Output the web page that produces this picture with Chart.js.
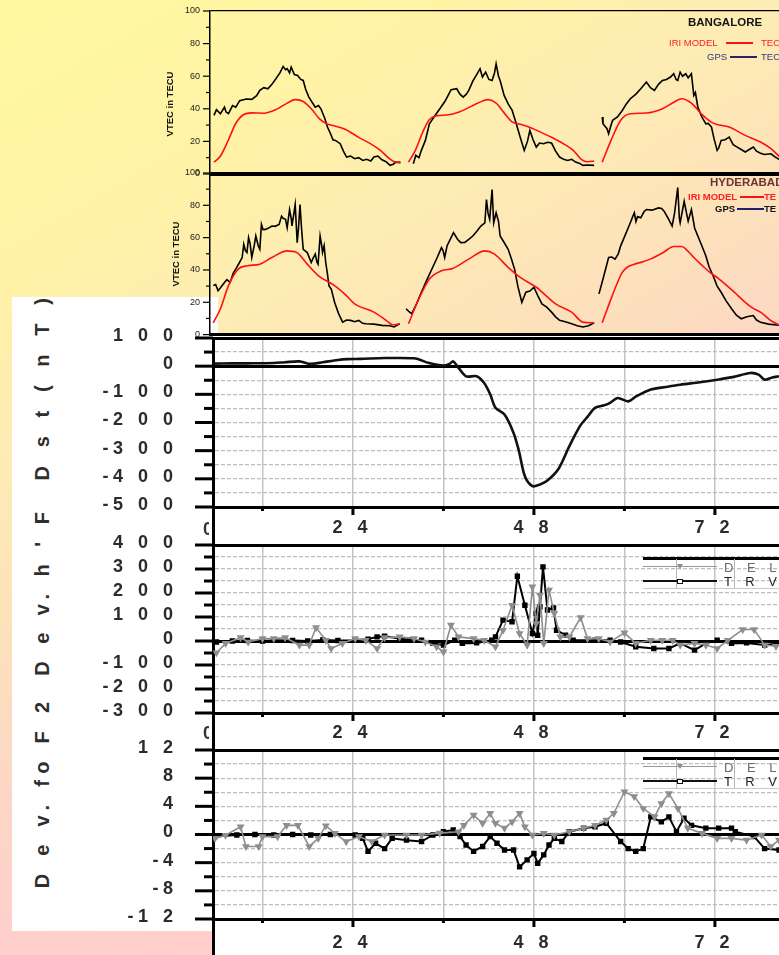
<!DOCTYPE html>
<html><head><meta charset="utf-8">
<script src="https://cdn.jsdelivr.net/npm/chart.js@4/dist/chart.umd.min.js"></script>
<style>
html,body{margin:0;padding:0;}
body{width:779px;height:955px;overflow:hidden;position:relative;
 background:linear-gradient(150deg,#fff9a0 0%,#fff2a6 20%,#fdecb4 32%,#fde3b9 43%,#fcd8c4 55%,#ffd0cb 66%,#ffc9cc 100%);
 font-family:"Liberation Sans",Arial,sans-serif;}
.a{position:absolute;}
.t{position:absolute;line-height:1;white-space:nowrap;transform:translateY(-50%);}
.rot{position:absolute;line-height:1;white-space:nowrap;transform:translate(-50%,-50%) rotate(-90deg);}
canvas{position:absolute;}
</style></head><body>
<div class="a" style="left:12px;top:297px;width:206px;height:634px;background:#fff"></div>
<div class="a" style="left:213px;top:336px;width:566px;height:619px;background:#fff"></div>
<div class="a" style="left:211.5px;top:338px;width:3px;height:617px;background:#000"></div>

<canvas id="cBan" width="629" height="180" style="left:150px;top:0px"></canvas>
<canvas id="cHyd" width="629" height="175" style="left:150px;top:165px"></canvas>
<canvas id="cDst" width="679" height="215" style="left:100px;top:327px"></canvas>
<canvas id="cHF" width="679" height="215" style="left:100px;top:534px"></canvas>
<canvas id="cFo" width="679" height="216" style="left:100px;top:739px"></canvas>

<!-- upper titles & legends -->
<div class="rot" style="left:170px;top:104px;font-size:9.5px;font-weight:bold;color:#111">VTEC in TECU</div>
<div class="rot" style="left:176px;top:254px;font-size:9.5px;font-weight:bold;color:#111">VTEC in TECU</div>

<div class="t" style="left:688px;top:23px;font-size:11.5px;font-weight:bold;color:#141414">BANGALORE</div>
<div class="t" style="left:669px;top:43px;font-size:9.5px;color:#ff2020">IRI MODEL</div>
<div class="a" style="left:726px;top:42px;width:27px;height:2px;background:#ff1010"></div>
<div class="t" style="left:761px;top:43px;font-size:9.5px;color:#ff2020">TEC</div>
<div class="t" style="left:707px;top:56.5px;font-size:9.5px;color:#34347e">GPS</div>
<div class="a" style="left:730px;top:56px;width:27px;height:2px;background:#25256e"></div>
<div class="t" style="left:761px;top:56.5px;font-size:9.5px;color:#34347e">TEC</div>

<div class="t" style="left:710px;top:182.5px;font-size:11.5px;font-weight:bold;color:#6b3434">HYDERABAD</div>
<div class="t" style="left:688px;top:197px;font-size:9.5px;font-weight:bold;color:#ff2020">IRI MODEL</div>
<div class="a" style="left:740px;top:196px;width:24px;height:2px;background:#ff1010"></div>
<div class="t" style="left:764px;top:197px;font-size:9.5px;font-weight:bold;color:#ff2020">TE</div>
<div class="t" style="left:715px;top:208.5px;font-size:9.5px;font-weight:bold;color:#111">GPS</div>
<div class="a" style="left:737px;top:208px;width:27px;height:2px;background:#20206a"></div>
<div class="t" style="left:764px;top:208.5px;font-size:9.5px;font-weight:bold;color:#111">TE</div>

<!-- lower left titles -->
<div class="rot" style="left:42px;top:386px;font-size:20px;font-weight:bold;letter-spacing:6.6px;color:#2e2e2e">D s t ( n T )</div>
<div class="rot" style="left:42px;top:591px;font-size:20px;font-weight:bold;letter-spacing:6px;color:#2e2e2e">D e v. h ' F</div>
<div class="rot" style="left:42px;top:792px;font-size:20px;font-weight:bold;letter-spacing:6.3px;color:#2e2e2e">D e v. fo F 2</div>

<div class="a" style="left:203px;top:518px;width:6px;height:22px;overflow:hidden;font-size:18px;font-weight:bold;color:#333;line-height:22px">0</div>
<div class="a" style="left:203px;top:722px;width:6px;height:22px;overflow:hidden;font-size:18px;font-weight:bold;color:#333;line-height:22px">0</div>

<!-- lower legends -->
<div id="legHF"></div>
<div id="legFo"></div>

<script>
// ---------------- DATA ----------------
// Upper panels: hours (3 consecutive days), VTEC in TECU
const BAN_IRI_D1_H=[0.5,1.3,2.3,3.2,4.2,5.2,6.7,8.2,9.6,10.6,11.6,12.6,13.6,14.5,15.5,16.8,18.5,20.0,21.2,22.3,23.2,23.7];
const BAN_IRI_D1_V=[7.3,11,21,31,36.5,37.5,37.3,39.5,43.5,45.6,44.5,40,34,30.8,29.5,27.5,22.5,18.5,14.5,9.5,7.2,7.5];
const BAN_IRI_D2_H=[24.7,25.5,26.5,27.3,28.3,29.5,31.0,32.5,34.0,34.6,35.6,36.6,37.6,38.6,39.6,41.0,42.5,44.0,45.2,46.2,47.0,47.8];
const BAN_IRI_D2_V=[7.3,14,26,33.5,35.8,36.2,38,41.5,45,45.6,43.5,37.5,32,30.5,29,26,22.5,18.5,14.5,9,7.5,8];
const BAN_IRI_D3_H=[48.8,49.9,51.1,52.3,54.3,56.3,57.7,58.7,59.9,61.2,62.6,64.6,66.6,68.5,69.8,70.9];
const BAN_IRI_D3_V=[7.3,20.6,33,37,37.4,40,44,46.2,43.5,36.6,31.2,28.8,23.7,19.6,15.5,10.4];

const BAN_GPS_D1_H=[0.5,0.8,1.3,1.8,2.0,2.3,2.6,2.8,3.2,3.7,4.5,5.2,5.8,6.2,6.7,7.2,7.7,8.2,8.7,9.1,9.4,9.6,9.9,10.1,10.5,10.9,11.3,11.6,11.9,12.3,12.7,13.1,13.5,13.8,14.3,14.6,15.0,15.3,15.6,16.2,16.6,17.0,17.5,18.0,18.5,19.0,19.5,20.0,20.4,20.9,21.4,21.9,22.4,22.8,23.1,23.7];
const BAN_GPS_D1_V=[36,39.5,37,41,38,37,40,42,41,45,46,45.8,48,51.3,53,52.3,55,58.4,62,66,64,64.6,62,65.6,61,60.5,58,57.4,52,47.2,44,41,42,40,33.9,29,24.7,21,20.6,18.6,14,10.4,11,9.4,10,8.3,9,8,10.4,11,8.7,7.5,5.3,6,7.3,6.9];
const BAN_GPS_D2_H=[25.3,25.6,26.0,26.3,26.8,27.3,28.0,28.6,29.3,30.0,30.7,31.1,31.5,31.9,32.2,32.7,33.2,33.6,33.9,34.3,34.7,35.1,35.4,35.6,35.9,36.1,36.6,37.1,37.6,38.1,38.6,39.1,39.5,39.8,40.2,40.6,41.0,41.5,42.0,42.5,43.0,43.5,44.0,44.5,45.0,45.5,46.0,46.4,47.0,47.8];
const BAN_GPS_D2_V=[6.3,11.4,10,14.5,20.6,30.8,35.9,40,45.1,51.7,52.3,49,47.2,49,51.3,57,61.1,64.6,59.5,62.5,58,57.4,62,67.6,60,57.4,48.2,43,39,31,22.6,14.5,20,26.7,21,16.5,19,18.6,19.5,19,14,10.4,9,8.3,9,7.3,6.5,5.3,5.5,5.3];
const BAN_GPS_D3_H=[48.8,48.9,49.2,49.4,49.6,49.9,50.1,50.7,51.3,51.8,52.3,53.0,53.6,54.3,54.8,55.3,55.8,56.3,56.8,57.3,57.7,58.0,58.2,58.5,58.8,59.2,59.5,59.9,60.2,60.4,60.7,61.2,61.7,62.0,62.4,62.7,63.1,63.3,63.6,64.1,64.6,65.1,65.6,66.1,66.6,67.1,67.6,68.0,68.5,69.0,69.8,70.3,70.9];
const BAN_GPS_D3_V=[34.9,30.8,29,27.8,24.7,30,32.9,35,39,43,46.2,49,52.3,56.4,53,51.3,55,57.4,58,59.5,61.5,58,57.4,62.5,60,61.5,59,61.5,48.2,50,41,35,30.8,31,28.8,22,14.5,16,20.6,21,22.6,18,16.5,15,13.5,15,16.5,14,12.8,12,12.4,10.5,8.7];

const HYD_IRI_D1_H=[0.4,1.3,2.3,3.5,4.7,6.2,7.7,9.6,10.8,12.1,13.5,15.5,17.0,18.0,20.4,22.0,22.7,23.6];
const HYD_IRI_D1_V=[7.3,16,30.3,40.5,42.6,43.6,47.7,51.8,50.8,43.6,36.4,30.3,24,19,13.9,8.5,6.1,6.7];
const HYD_IRI_D2_H=[24.7,25.8,27.3,28.8,30.2,32.2,34.2,35.4,37.1,38.6,40.6,43.0,45.0,46.4,47.8];
const HYD_IRI_D2_V=[6.7,20,34.4,39.5,40.9,46.7,51.8,49.8,41.6,35.4,29.3,19,13.9,7.7,7.3];
const HYD_IRI_D3_H=[48.8,49.9,50.6,51.3,52.0,52.8,53.8,54.8,56.3,57.7,58.7,59.5,60.2,61.2,62.2,63.2,64.1,65.3,66.6,67.5,68.5,69.7,70.9];
const HYD_IRI_D3_V=[7.3,22.1,31,38.5,42,43.6,45,46.7,50.5,54.5,54.5,51.5,47.7,43,38.5,35,31.3,26,20,16.5,13.9,9,5.7];

const HYD_GPS_D1_H=[0.4,0.7,1.0,1.3,1.8,2.1,2.5,2.9,3.2,3.6,4.0,4.2,4.4,4.6,4.8,5.0,5.2,5.5,5.7,6.0,6.2,6.4,6.6,6.9,7.3,7.7,8.1,8.6,8.9,9.1,9.4,9.6,9.9,10.1,10.2,10.6,10.85,11.0,11.2,11.4,11.6,12.1,12.4,12.6,12.8,13.1,13.3,13.45,13.7,13.9,14.0,14.2,14.4,14.6,14.8,15.1,15.5,16.0,16.5,17.0,17.5,18.0,18.5,19.0,19.4,20.4,21.4,22.4,22.9,23.6];
const HYD_GPS_D1_V=[30.3,31,27.2,29,32.3,34,32.3,38,40.5,44,47.7,55.9,52,50.8,60,56,47.7,55,61,55,52.8,68.2,65,65.1,66,67.2,67,68.2,73.3,72,71.3,66.1,77.4,72,67.2,80.5,56.9,65,80.5,65,52.8,50.8,47,44.6,47,49.8,45,43.6,61,55,50.8,55,44.6,38,30.3,28,20,13,7.7,9,8.8,8,8.8,7,6.7,6.5,5.7,5.5,4.7,6.7];
const HYD_GPS_D2_H=[24.4,24.8,25.1,25.7,26.3,27.0,27.8,28.3,28.8,29.0,29.2,29.5,29.8,30.3,30.8,31.2,31.7,32.2,32.7,33.2,33.7,34.2,34.4,34.6,34.8,35.1,35.3,35.6,35.9,36.1,36.6,37.1,37.5,37.9,38.3,38.8,39.3,39.8,40.3,40.8,41.3,41.9,42.5,43.0,43.5,44.2,45.0,45.7,46.4,47.1,47.8];
const HYD_GPS_D2_V=[16,14,12.9,19,26.2,34,42.6,48,53.8,52,47.7,55,58,63.1,59,56.9,57,59,61,64,67.2,69.2,83.6,75,71.3,89.7,69.2,75.4,70,61,57,52.8,47,40.5,30,20,26.2,27,29.3,24,19,17,13.9,11,8.8,8,6.7,5.5,4.7,5.5,7.3];
const HYD_GPS_D3_H=[48.4,48.9,49.3,49.6,50.0,50.4,50.8,51.1,51.7,52.3,52.6,52.8,53.0,53.2,53.6,54.0,54.3,55.0,55.8,56.2,56.5,57.0,57.5,57.8,58.2,58.4,58.5,59.0,59.3,59.5,59.9,60.3,60.7,61.2,61.7,62.1,62.6,63.1,63.6,64.2,64.9,65.5,66.1,66.8,67.6,68.0,68.5,69.5,70.9];
const HYD_GPS_D3_V=[25.2,34.4,42,47.7,48,46.7,50,54.9,62,69.2,73,75.4,70,73,72.3,76,77.4,77,78.4,78,76.4,72,67.2,75,91,72,69.2,82.5,75,70.2,77.4,66,61,55,48.7,42,36.4,30,26.2,21,16,12,9.8,11,11.8,9,7.7,6.5,5.7];

// Lower panels: hours
const DST_H=[5.44,8,10,13.5,15,16.9,18.4,20,22,23.3,25,28.2,30,32,32.6,34.1,36.0,36.8,37.3,38.0,39.0,40.4,41.4,42.2,42.9,44.1,45.3,46.0,46.8,47.8,48.8,49.7,51.2,52.7,54.1,55.1,56.1,57.2,58.1,59.1,60.5,61.5,63.5,65.5,67.4,70,72.3,74.5,76.7,77.8,78.6,79.6,80.5];
const DST_V=[9,10,10,11,14,17,8,14,22,25,26,29,29,28,25.5,11,2,8,17,-6,-36,-36,-60,-100,-148,-172,-237,-300,-391,-426,-420,-408,-367,-284,-213,-180,-148,-140,-130,-113,-125,-108,-83,-74,-66,-57,-48,-38,-24,-30,-48,-40,-36];

const HF_DEL_H=[5.9,7.1,9.1,10.1,12.0,13.5,15.0,16.9,18.2,19.1,20.4,21.1,22.6,24.3,25.7,27.2,28.2,30.2,32.1,33.6,35.1,36.0,37.0,38.0,40.0,41.4,42.9,43.9,45.1,46.1,47.1,47.8,48.3,48.8,49.3,50.0,50.7,51.5,52.7,54.2,55.1,56.6,58.1,60.0,61.5,63.5,65.0,66.4,67.4,69.3,70.8,72.3,73.7,75.7,77.2,78.6,80.1];
const HF_DEL_V=[-49,-10,14,-4,10,10,14,-17,-17,56,3,-31,-10,10,3,-31,14,17,10,-4,-24,-45,66,17,10,3,-24,45,149,31,-17,226,73,191,-10,212,115,17,17,98,10,10,-4,34,-10,3,3,3,-17,-10,-17,-31,3,48,48,-17,-22];
const HF_TRV_H=[5.9,8,10,12,13.5,16,18,20,22,24.3,26,27.2,28.2,30.2,31.5,33.1,34.6,36.0,37.5,38.5,40.4,42.4,42.9,43.9,45.1,45.8,46.8,47.8,48.3,48.5,48.8,49.2,49.8,50.6,51.0,52.2,53.2,56.1,58.1,59.5,61.5,63.9,65.9,67.4,69.3,70.8,72.3,74.2,76.2,78.6,80.5];
const HF_TRV_V=[-4,0,2,0,3,2,0,4,2,3,8,17,20,10,5,3,-10,-17,3,-10,-8,3,17,87,80,270,149,31,115,24,142,309,129,138,45,24,3,3,3,-4,-24,-31,-31,-10,-38,-10,3,-10,-8,-17,-10];

const FO_DEL_H=[5.7,7.1,9.1,9.8,11.5,12.0,14.0,15.2,16.7,18.2,19.4,20.4,21.6,23.1,24.8,26.5,28.2,31.1,33.1,35.5,38.0,38.7,40.0,41.2,42.2,42.9,44.1,45.1,46.1,46.8,47.8,49.3,50.7,52.7,54.6,56.1,57.6,58.6,60.0,61.3,62.5,64.0,64.9,65.9,67.1,68.4,70.3,72.3,74.2,76.2,78.2,79.4,80.5];
const FO_DEL_V=[-0.55,-0.1,1.1,-1.7,-1.7,-0.3,-0.3,1.3,1.3,-1.7,-0.55,1.25,0.16,-1.0,-0.3,-1.0,-0.07,-0.07,-0.07,0.2,0.4,1.3,2.76,1.6,3.0,1.6,0.9,1.8,3.0,1.1,-0.07,0.16,-0.07,0.4,0.9,1.3,2.05,3.0,6.07,5.4,3.7,2.5,4.4,5.8,3.7,0.9,0.16,-0.55,-0.55,-0.8,-0.07,-1.7,-0.8];
const FO_TRV_H=[5.7,8.6,11,13.5,16,18.4,21,24.3,25.3,26.0,27.0,28.2,29.2,31.1,33.1,34.6,36.0,37.3,38.2,39.0,40.0,41.2,42.2,43.1,44.1,45.3,46.1,47.1,48.0,48.5,49.3,50.0,50.7,51.7,52.7,54.6,56.1,57.6,59.5,60.5,61.5,62.5,63.5,64.9,65.9,66.9,67.9,68.9,70.8,72.5,74.2,74.7,77.2,78.6,80.5];
const FO_TRV_V=[-0.3,-0.07,0,-0.07,0,-0.07,0,-0.07,-0.55,-2.4,-1.25,-2.0,-0.55,-0.8,-1.0,-0.07,0.4,0.64,-0.3,-1.5,-2.4,-1.7,-0.3,-1.25,-2.2,-2.2,-4.6,-3.6,-2.7,-4.1,-2.9,-1.5,-0.55,-1.0,0.4,0.9,1.1,1.6,-1.0,-2.0,-2.4,-2.0,2.5,1.8,2.5,0.4,2.3,1.3,0.9,0.9,0.9,0.4,-0.3,-2.0,-2.2];

// tick values
const UP_MAJOR=[0,20,40,60,80,100], UP_MINOR=[10,30,50,70,90];
const DST_MAJOR=[100,0,-100,-200,-300,-400,-500], DST_MINOR=[50,-50,-150,-250,-350,-450];
const HF_MAJOR=[400,300,200,100,0,-100,-200,-300], HF_MINOR=[350,250,150,50,-50,-150,-250];
const FO_MAJOR=[12,8,4,0,-4,-8,-12], FO_MINOR=[10,6,2,-2,-6,-10];
const X_MAJOR=[24,48,72], X_MINOR=[12,36,60];
const X_GRID=[12,24,36,48,60,72];

// ---------------- HELPERS ----------------
const FF="'Liberation Sans', Arial, sans-serif";
Chart.defaults.font.family=FF;
function pts(H,V){return H.map((h,i)=>({x:h,y:V[i]}));}
function join(days){const out=[];days.forEach((d,k)=>{if(k)out.push({x:(out[out.length-1].x+d[0].x)/2,y:null});out.push(...d);});return out;}
function spaced(v){const c=String(v).split('');let s='';c.forEach((ch,i)=>{s+=ch;if(i<c.length-1)s+=(ch==='-'?'\u2005':'\u2002\u2004');});return s;}

const tickPlugin={id:'tickMarks',afterDraw(chart,args,o){
  const ctx=chart.ctx;
  ['x','y'].forEach(k=>{
    const t=o[k]; if(!t) return; const sc=chart.scales[k];
    ctx.save(); ctx.strokeStyle='#000'; ctx.lineWidth=t.width; ctx.lineCap='butt';
    const draw=(vals,len)=>vals.forEach(v=>{const p=sc.getPixelForValue(v);ctx.beginPath();
      if(k==='y'){ctx.moveTo(sc.right-len,p);ctx.lineTo(sc.right,p);}else{ctx.moveTo(p,sc.top);ctx.lineTo(p,sc.top+len);}
      ctx.stroke();});
    draw(t.major,t.majorLen); draw(t.minor,t.minorLen); ctx.restore();
  });
}};

function upper(id,iri,gps,padTop,xH){
  return new Chart(document.getElementById(id),{type:'line',
   data:{datasets:[
    {data:iri,borderColor:'#ff1010',borderWidth:1.6,pointRadius:0,cubicInterpolationMode:'monotone',spanGaps:false},
    {data:gps,borderColor:'#000',borderWidth:1.6,pointRadius:0,tension:0,spanGaps:false}]},
   options:{responsive:false,animation:false,devicePixelRatio:1,
    layout:{autoPadding:false,padding:{top:padTop,left:0,right:0,bottom:0}},
    plugins:{legend:{display:false},tooltip:{enabled:false},
      tickMarks:{y:{major:UP_MAJOR,minor:UP_MINOR,majorLen:7,minorLen:4,width:1.2}}},
    scales:{
     x:{type:'linear',min:0,max:70.8,afterFit:s=>{s.height=xH;},ticks:{display:false},
        grid:{drawOnChartArea:false,drawTicks:false},border:{display:true,width:3,color:'#000'}},
     y:{min:0,max:100,afterFit:s=>{s.width=60;},
        ticks:{stepSize:10,autoSkip:false,padding:0,color:'#222',font:{size:9},callback:v=>v%20===0?String(v):''},
        grid:{drawTicks:true,tickLength:10,tickColor:'rgba(0,0,0,0)',lineWidth:1.2,
          color:c=>(c.tick&&c.tick.value===100)?'#000':'rgba(0,0,0,0)'},
        border:{width:1.5,color:'#000'}}
    }},
   plugins:[tickPlugin]});
}

upper('cBan',
  join([pts(BAN_IRI_D1_H,BAN_IRI_D1_V),pts(BAN_IRI_D2_H,BAN_IRI_D2_V),pts(BAN_IRI_D3_H,BAN_IRI_D3_V)]),
  join([pts(BAN_GPS_D1_H,BAN_GPS_D1_V),pts(BAN_GPS_D2_H,BAN_GPS_D2_V),pts(BAN_GPS_D3_H,BAN_GPS_D3_V)]),11,6);
upper('cHyd',
  join([pts(HYD_IRI_D1_H,HYD_IRI_D1_V),pts(HYD_IRI_D2_H,HYD_IRI_D2_V),pts(HYD_IRI_D3_H,HYD_IRI_D3_V)]),
  join([pts(HYD_GPS_D1_H,HYD_GPS_D1_V),pts(HYD_GPS_D2_H,HYD_GPS_D2_V),pts(HYD_GPS_D3_H,HYD_GPS_D3_V)]),8,4);

function lower(id,datasets,yMin,yMax,step,labStep,major,minor,xH,xPad){
  const isKey=v=>v===0||v===yMax;
  return new Chart(document.getElementById(id),{type:'line',
   data:{datasets},
   options:{responsive:false,animation:false,devicePixelRatio:1,
    layout:{autoPadding:false,padding:{top:11,left:0,right:0,bottom:0}},
    plugins:{legend:{display:false},tooltip:{enabled:false},
      tickMarks:{y:{major,minor,majorLen:18,minorLen:9,width:3},x:{major:X_MAJOR,minor:X_MINOR,majorLen:8,minorLen:4,width:3}}},
    scales:{
     x:{type:'linear',min:5.44,max:80.5,afterFit:s=>{s.height=xH;},
        afterBuildTicks:s=>{s.ticks=X_GRID.map(v=>({value:v}));},
        ticks:{autoSkip:false,maxRotation:0,padding:xPad,labelOffset:-3,color:'#2b2b2b',font:{size:18,weight:'bold'},
          callback:v=>X_MAJOR.includes(v)?spaced(v):''},
        grid:{drawTicks:false,color:'#c4c4c4',lineWidth:1.5},border:{display:true,width:3,color:'#000'}},
     y:{min:yMin,max:yMax,afterFit:s=>{s.width=113;},
        ticks:{stepSize:step,autoSkip:false,padding:0,labelOffset:-2,color:'#2b2b2b',font:{size:18,weight:'bold'},
          callback:v=>(Math.abs(v%labStep)<1e-9)?spaced(v):''},
        grid:{drawTicks:true,tickLength:40,tickColor:'rgba(0,0,0,0)',
          color:c=>(c.tick&&isKey(c.tick.value))?'#000':'#bdbdbd',
          lineWidth:c=>(c.tick&&isKey(c.tick.value))?3:1.2},
        border:{width:3,color:'#000',dash:c=>(c.tick&&!isKey(c.tick.value))?[4,2]:[]}}
    }},
   plugins:[tickPlugin]});
}
const delStyle={borderColor:'#8e8e8e',backgroundColor:'#8e8e8e',borderWidth:1.6,pointStyle:'triangle',rotation:180,pointRadius:3,tension:0};
const trvStyle={borderColor:'#000',backgroundColor:'#000',borderWidth:2,pointStyle:'rect',pointRadius:2.4,tension:0};

lower('cDst',[{data:pts(DST_H,DST_V),borderColor:'#111',borderWidth:2.6,pointRadius:0,tension:0.3}],
  -500,100,50,100,DST_MAJOR,DST_MINOR,35,10);
lower('cHF',[Object.assign({data:pts(HF_DEL_H,HF_DEL_V)},delStyle),Object.assign({data:pts(HF_TRV_H,HF_TRV_V)},trvStyle)],
  -300,400,50,100,HF_MAJOR,HF_MINOR,36,9);
lower('cFo',[Object.assign({data:pts(FO_DEL_H,FO_DEL_V)},delStyle),Object.assign({data:pts(FO_TRV_H,FO_TRV_V)},trvStyle)],
  -12,12,2,4,FO_MAJOR,FO_MINOR,36,13);

// lower legends (HTML)
function legend(el,top){
  const r1=top+9.5, r2=top+24;
  el.innerHTML=
   `<div class="a" style="left:643px;top:${top}px;width:136px;height:3px;background:#000"></div>
    <div class="a" style="left:643px;top:${top+31}px;width:136px;height:1px;background:#c8c8c8"></div>
    <div class="a" style="left:676px;top:${top+2}px;width:1px;height:30px;background:#b8b8b8"></div>
    <div class="a" style="left:734px;top:${top+2}px;width:1px;height:30px;background:#b8b8b8"></div>
    <div class="a" style="left:643px;top:${r1-1}px;width:74px;height:1.5px;background:#9a9a9a"></div>
    <div class="a" style="left:677px;top:${r1-2.5}px;width:6px;height:5px;background:#8e8e8e;clip-path:polygon(0 0,100% 0,50% 100%)"></div>
    <div class="t" style="left:724px;top:${r1}px;font-size:13px;letter-spacing:5px;color:#6a6a6a">D E L</div>
    <div class="a" style="left:643px;top:${r2-1}px;width:74px;height:2px;background:#111"></div>
    <div class="a" style="left:677px;top:${r2-2.5}px;width:4px;height:3px;border:1.3px solid #111;background:#fff"></div>
    <div class="t" style="left:724px;top:${r2}px;font-size:13px;letter-spacing:5px;color:#222">T R V</div>`;
}
legend(document.getElementById('legHF'),557);
legend(document.getElementById('legFo'),757);
</script>
</body></html>
